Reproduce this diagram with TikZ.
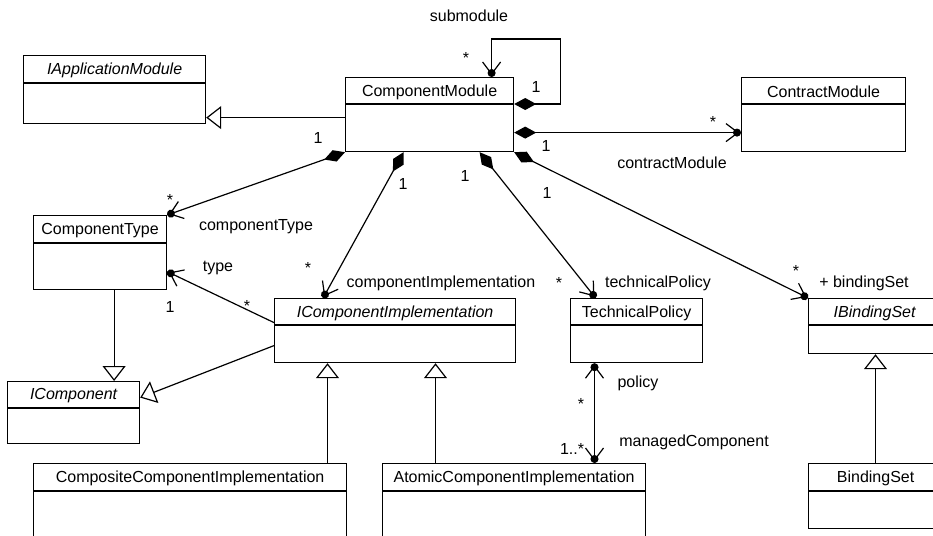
\documentclass[tikz,border=0pt]{standalone}
\usepackage{fontspec}
\setmainfont{Liberation Sans}
\usetikzlibrary{arrows.meta,calc}

\tikzset{
  classbox/.style={draw,line width=1.2pt,anchor=north west,inner sep=0pt},
  lbl/.style={inner sep=1pt},
  gen/.style={line width=1.2pt,-{Triangle[open,fill=white,length=15pt,width=23pt]}},
  nav/.style={line width=1.2pt,-{Straight Barb[length=12pt,width=18pt,sep=-6pt]Circle[length=8pt]}},
  navnav/.style={line width=1.2pt,
    {Circle[length=8pt]Straight Barb[length=12pt,width=18pt,sep=-6pt]}-{Straight Barb[length=12pt,width=18pt,sep=-6pt]Circle[length=8pt]}},
  compnav/.style={line width=1.2pt,
    {Diamond[length=22pt,width=12pt]}-{Straight Barb[length=12pt,width=18pt,sep=-6pt]Circle[length=8pt]}},
}

% name, x, y, width, height, header height, title
\newcommand\umlclass[7]{%
  \node[classbox,minimum width=#4pt,minimum height=#5pt] (#1) at (#2,#3) {};
  \draw[line width=1.2pt] ($(#1.north west)+(0,#6)$) -- ($(#1.north east)+(0,#6)$);
  \node (#1Title) at ($(#1.north)+(0,#6/2+1.5)$) {#7};
}

\begin{document}
\begin{tikzpicture}[x=1pt,y=-1pt,font=\fontsize{16}{19}\selectfont]
  \clip (0,0) rectangle (933,535);%<- page size of the reference

  \umlclass{AppModule}{23}{55}{182}{68}{28}{\itshape IApplicationModule}
  \umlclass{CompModule}{345}{77}{168}{74}{27}{ComponentModule}
  \umlclass{ContractMod}{741}{77}{164}{74}{27}{ContractModule}
  \umlclass{CompType}{33}{215}{133}{74}{28}{ComponentType}
  \umlclass{CompImpl}{274}{298}{241}{64}{27}{\itshape IComponentImplementation}
  \umlclass{TechPolicy}{570}{298}{132}{64}{27}{TechnicalPolicy}
  \umlclass{BindSetI}{808}{298}{132}{55}{27}{\itshape IBindingSet}
  \umlclass{IComp}{7}{381}{132}{62}{27}{\itshape IComponent}
  \umlclass{CompositeImpl}{33}{463}{313}{100}{28}{CompositeComponentImplementation}
  \umlclass{AtomicImpl}{382}{463}{263}{100}{28}{AtomicComponentImplementation}
  \umlclass{BindSet}{808}{463}{134}{65}{28}{BindingSet}

  % generalizations
  \coordinate (GenA) at ([yshift=-3pt]CompModule.west);
  \draw[gen] (GenA) -- (GenA -| AppModule.east);
  \coordinate (GenB) at ([xshift=14pt]CompType.south);
  \draw[gen] (GenB) -- (GenB |- IComp.north);
  \draw[gen] ([yshift=-15pt]CompImpl.west) -- ([yshift=15pt]IComp.east);
  \coordinate (GenC) at ([xshift=294.5pt]CompositeImpl.north west);
  \draw[gen] (GenC) -- (GenC |- CompImpl.south);
  \coordinate (GenD) at ([xshift=53.5pt]AtomicImpl.north west);
  \draw[gen] (GenD) -- (GenD |- CompImpl.south);
  \coordinate (GenE) at ([xshift=67.5pt]BindSet.north west);
  \draw[gen] (GenE) -- (GenE |- BindSetI.south);

  % compositions out of ComponentModule
  \draw[compnav] ([yshift=-27pt]CompModule.north east) -- ++(46,0) -- ++(0,-65)
    -| ([xshift=62pt]CompModule.north);
  \draw[compnav] ([yshift=-18pt]CompModule.east) -- ([yshift=-18pt]ContractMod.west);
  \draw[compnav] (CompModule.south west) -- (CompType.north east);
  \draw[compnav] ([xshift=-26pt]CompModule.south) -- ([xshift=-72pt]CompImpl.north);
  \draw[compnav] ([xshift=50pt]CompModule.south) -- ([xshift=-41pt]TechPolicy.north);
  \draw[compnav] (CompModule.south east) -- (BindSetI.north west);

  % plain associations
  \draw[nav] ([yshift=8pt]CompImpl.west) -- ([yshift=-19pt]CompType.east);
  \coordinate (PolA) at ([xshift=24.5pt]TechPolicy.south west);
  \draw[navnav] (PolA) -- (PolA |- AtomicImpl.north);

  % role names and multiplicities
  \node[lbl] (SubName) at (469,16) {submodule};
  \node[lbl] (SubMany) at (466,58) {*};
  \node[lbl] (SubOne) at (536,87) {1};
  \node[lbl] (ContractName) at (672,163) {contractModule};
  \node[lbl] (ContractMany) at (713,122) {*};
  \node[lbl] (ContractOne) at (546,146) {1};
  \node[lbl] (TypeName) at (256,227) {componentType};
  \node[lbl] (TypeMany) at (170,200) {*};
  \node[lbl] (TypeOne) at (318,138) {1};
  \node[lbl] (ImplName) at (441,283) {componentImplementation};
  \node[lbl] (ImplMany) at (308,268) {*};
  \node[lbl] (ImplOne) at (403,184) {1};
  \node[lbl] (PolicyName) at (658,283) {technicalPolicy};
  \node[lbl] (PolicyMany) at (559,283) {*};
  \node[lbl] (PolicyOne) at (465,176) {1};
  \node[lbl] (BindName) at (864,283) {+ bindingSet};
  \node[lbl] (BindMany) at (796,271) {*};
  \node[lbl] (BindOne) at (547,193) {1};
  \node[lbl] (KindName) at (218,268) {type};
  \node[lbl] (KindOne) at (170,307) {1};
  \node[lbl] (KindMany) at (247,306) {*};
  \node[lbl] (PolName) at (638,383) {policy};
  \node[lbl] (PolMany) at (581,404) {*};
  \node[lbl] (ManagedMany) at (572,449) {1..*};
  \node[lbl] (ManagedName) at (694,442) {managedComponent};
\end{tikzpicture}
\end{document}
